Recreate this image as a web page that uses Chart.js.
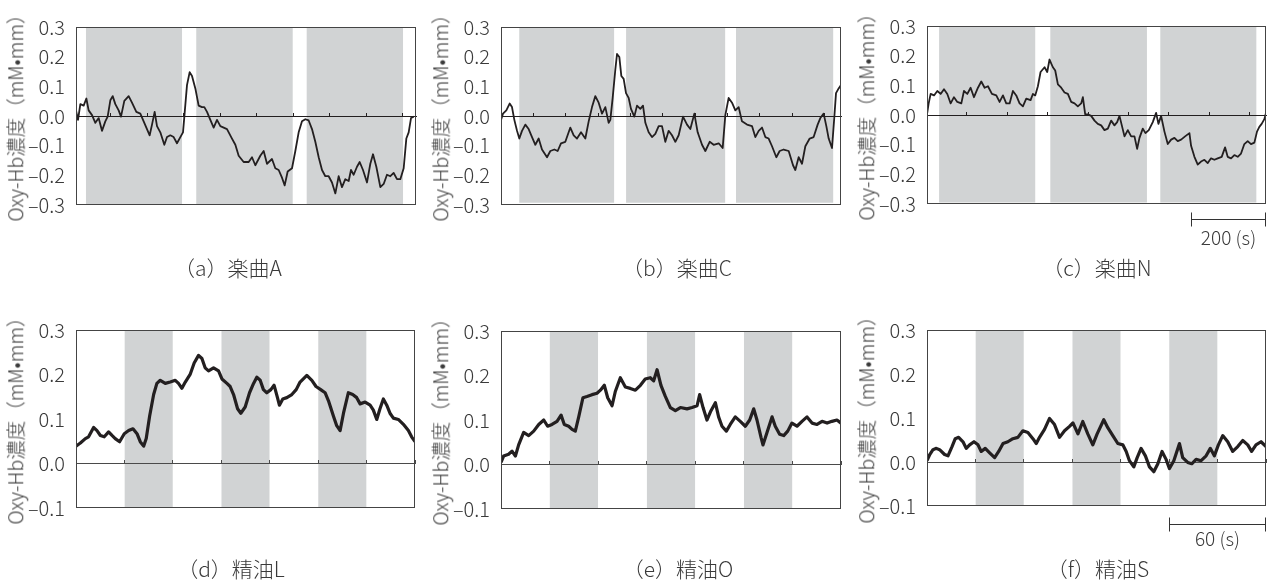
<!DOCTYPE html>
<html><head><meta charset="utf-8">
<script src="https://cdn.jsdelivr.net/npm/chart.js@4.4.0/dist/chart.umd.min.js"></script>
<style>
html,body{margin:0;padding:0;background:#fff;}
body{width:1272px;height:585px;position:relative;overflow:hidden;font-family:'Noto Sans CJK JP','Noto Sans',sans-serif;}
.panel{position:absolute;}
.panel canvas{display:block;}
.ytitle{position:absolute;white-space:nowrap;font-size:19.5px;font-weight:300;color:#3a3a3a;line-height:1;transform:translate(-50%,-50%) rotate(-90deg);}
.cap{position:absolute;white-space:nowrap;font-size:21px;font-weight:300;color:#3a3a3a;line-height:1;transform:translate(-50%,-50%);}
</style></head><body>
<script>
// ---------- data ----------
const musicRange = [0, 900];      // seconds
const oilRange = [0, 210];        // seconds
const musicYTicks = [-0.3, -0.2, -0.1, 0.0, 0.1, 0.2, 0.3];
const oilYTicks = [-0.1, 0.0, 0.1, 0.2, 0.3];
const yTitle = 'Oxy-Hb濃度（mM•mm）';
const captions = ['（a）楽曲A', '（b）楽曲C', '（c）楽曲N', '（d）精油L', '（e）精油O', '（f）精油S'];

const aTicks = [91, 188, 285, 382, 479, 575, 672, 769, 863];
const bTicks = [86.5, 172, 257.5, 343, 428.5, 514, 599.5, 685, 770.5, 855];
const cTicks = [106, 215, 321, 429, 536, 642, 750, 856];
const oilTicks = [30, 60, 90, 120, 150, 180, 210];

const aBands = [[26, 281], [318, 574], [610, 866]];
const bBands = [[48, 300], [331, 594], [622, 880]];
const cBands = [[32, 288], [327, 584], [619, 875]];
const oilBands = [[30, 60], [90, 120], [150, 180]];

const aTime = [0,5.3,11.5,20.3,27.4,33.5,42.4,51.2,60,68.8,77.6,83.8,90.9,97.1,104.1,112.9,119.1,127.9,139.4,148.2,159.7,170.3,179.1,187.9,195,201.2,208.2,214.4,223.2,233.8,240.9,249.7,258.5,267.3,276.2,283.2,286.8,293.8,300.9,307.1,315.9,324.7,333.5,339.7,346.8,355.6,364.4,373.2,382.1,399.7,412.9,421.8,430.6,443.8,457.1,465.9,474.7,487.9,496.8,505.6,518.8,527.6,536.5,545.3,552.4,560.3,571.8,580.6,589.4,598.2,607.1,615.9,624.7,633.5,642.4,651.2,660,668.8,677.6,686.5,695.3,704.1,712.9,721.8,727.9,735,743.8,750.9,759.7,770.3,779.1,786.2,795,805.6,814.4,823.2,832.1,840.9,849.7,858.5,867.4,874.4,880.6,886.8,893.8];
const aOxy = [0.019,-0.013,0.040,0.035,0.059,0.019,0.003,-0.023,-0.007,-0.050,-0.018,-0.002,0.053,0.067,0.040,0.019,-0.002,0.051,0.067,0.045,0.014,0.008,-0.018,-0.044,-0.065,-0.029,0.014,-0.034,-0.055,-0.097,-0.071,-0.065,-0.071,-0.092,-0.071,-0.055,-0.002,0.104,0.148,0.135,0.093,0.035,0.030,0.030,0.014,-0.013,-0.039,-0.013,-0.034,-0.044,-0.076,-0.097,-0.134,-0.155,-0.155,-0.139,-0.166,-0.134,-0.118,-0.161,-0.145,-0.176,-0.182,-0.208,-0.234,-0.187,-0.176,-0.118,-0.055,-0.018,-0.011,-0.015,-0.044,-0.087,-0.139,-0.182,-0.203,-0.203,-0.224,-0.261,-0.203,-0.240,-0.213,-0.219,-0.182,-0.198,-0.171,-0.155,-0.182,-0.224,-0.161,-0.129,-0.171,-0.240,-0.229,-0.198,-0.203,-0.192,-0.213,-0.213,-0.176,-0.076,-0.055,-0.007,-0.002];

const bTime = [0,5.3,14.1,22.9,29.1,35.3,42.4,48.5,55.6,64.4,73.2,82.1,90.9,99.7,108.5,121.8,130.6,141.2,150,158.8,170.3,183.5,192.4,201.2,211.8,223.2,232.1,240.9,249.7,258.5,267.4,276.2,285,289.4,295.6,302.6,307.1,313.2,318.5,324.7,330.9,337.9,344.1,352.9,360,368.8,375.9,382.1,390.9,399.7,408.5,417.4,426.2,435,443.8,452.6,461.5,470.3,481.8,492.4,501.2,511.8,520.6,532.1,540.9,552.4,562.9,576.2,586.8,593.8,602.6,611.5,620.3,629.1,637.9,651.2,664.4,673.2,682.1,690.9,699.7,708.5,717.4,728.8,737.6,748.2,761.5,773,779.1,787.9,796.8,805.6,817.1,827.6,838.2,845.3,854.1,861.2,867.4,876.2,882.4,886.8,893.8,900];
const bOxy = [-0.013,0.008,0.019,0.042,0.030,-0.013,-0.050,-0.076,-0.050,-0.029,-0.044,-0.071,-0.097,-0.076,-0.113,-0.139,-0.118,-0.113,-0.118,-0.092,-0.087,-0.039,-0.065,-0.076,-0.055,-0.076,-0.018,0.030,0.067,0.045,0.008,0.030,-0.023,-0.013,0.061,0.156,0.209,0.199,0.135,0.125,0.077,0.061,0.024,-0.002,0.035,0.024,0.035,-0.023,-0.055,-0.071,-0.060,-0.034,-0.034,-0.087,-0.050,-0.065,-0.087,-0.065,-0.002,-0.029,-0.044,0.008,-0.055,-0.097,-0.118,-0.087,-0.097,-0.092,-0.108,0.003,0.061,0.045,0.019,0.030,-0.018,-0.029,-0.034,-0.071,-0.050,-0.039,-0.071,-0.076,-0.102,-0.139,-0.118,-0.113,-0.118,-0.166,-0.182,-0.139,-0.161,-0.102,-0.076,-0.071,-0.029,-0.007,0.008,-0.034,-0.076,-0.108,-0.002,0.077,0.093,0.104];

const cTime = [0,4.4,9.7,18.6,27.4,36.2,45.1,53.9,62.8,71.6,80.5,91.1,98.1,107,115.8,124.7,135.3,144.1,153,161.8,172.4,183.9,192.7,201.6,210.4,219.3,228.1,236.9,245.8,254.6,263.5,275,281.1,287.3,294.4,301.5,312.1,319.2,325.3,334.2,340.4,347.5,356.3,365.1,374,382.8,391.7,400.5,409.3,413.8,420,427,435.9,444.7,453.5,462.4,471.2,480.1,488.9,497.7,504.8,511,517.2,524.3,533.1,542,550.8,557.9,564.1,572.9,580,588.8,599.4,608.3,614.4,621.5,630.4,639.2,648.1,656.9,665.7,674.6,685.2,696.7,701.1,710,718.8,727.6,736.5,745.3,754.1,763,771.8,782.4,791.3,798.3,807.2,816,824.9,833.7,842.5,851.4,860.2,869.1,876.1,882.3,888.5,895.6,900];
const cOxy = [0.002,0.039,0.071,0.066,0.081,0.071,0.087,0.071,0.039,0.060,0.044,0.039,0.081,0.071,0.092,0.060,0.092,0.113,0.092,0.097,0.071,0.066,0.044,0.066,0.039,0.039,0.081,0.066,0.039,0.029,0.055,0.050,0.071,0.066,0.097,0.145,0.161,0.145,0.187,0.161,0.150,0.103,0.092,0.076,0.071,0.044,0.039,0.029,0.039,0.060,0.002,0.002,-0.003,-0.019,-0.030,-0.035,-0.051,-0.046,-0.019,-0.035,-0.024,-0.003,-0.035,-0.072,-0.051,-0.072,-0.072,-0.114,-0.077,-0.046,-0.061,-0.051,-0.024,0.007,-0.030,-0.003,-0.056,-0.098,-0.083,-0.077,-0.088,-0.083,-0.072,-0.061,-0.104,-0.141,-0.167,-0.157,-0.151,-0.162,-0.146,-0.151,-0.146,-0.141,-0.109,-0.141,-0.146,-0.135,-0.141,-0.130,-0.098,-0.088,-0.098,-0.093,-0.056,-0.040,-0.030,-0.014,0.007];

const dTime = [0,2.7,5.8,7.8,10.9,13,15.1,17.5,20.2,22.3,24.3,27,29.9,32.6,35.3,37.8,39.8,41.9,43.5,45.6,48.1,50.1,52.2,55.3,58.4,61.5,63.5,65.6,67.7,70.8,73.2,75.9,78,80,82.1,85.2,88.3,90.4,93.5,95.5,97.6,100.1,102.1,104.8,107.5,110,112,114.1,116.1,118.2,120.7,122.7,124.8,126,128.1,130.6,133.7,136.4,138.8,143,146.1,148.7,151.6,154.3,156.4,159.5,161.5,163.6,165.7,168.7,171.4,173.9,176,179.1,182.2,184.2,186.3,188.3,190.4,192.5,194.5,196.6,199.7,202.8,205.9,207.9,210];
const dOxy = [0.039,0.046,0.056,0.060,0.081,0.074,0.063,0.060,0.071,0.063,0.056,0.049,0.067,0.074,0.078,0.067,0.049,0.039,0.056,0.106,0.155,0.180,0.187,0.180,0.183,0.187,0.180,0.169,0.183,0.201,0.226,0.243,0.236,0.215,0.208,0.215,0.208,0.190,0.180,0.173,0.155,0.123,0.113,0.127,0.159,0.180,0.194,0.187,0.166,0.159,0.166,0.176,0.148,0.131,0.145,0.148,0.155,0.166,0.183,0.198,0.187,0.173,0.166,0.159,0.141,0.106,0.085,0.074,0.113,0.159,0.155,0.148,0.134,0.138,0.131,0.120,0.099,0.123,0.145,0.131,0.113,0.102,0.099,0.088,0.074,0.060,0.049];

const eTime = [0,1.6,4.7,6.8,8.9,10.9,14,17.1,20.2,23.3,26.4,28.8,31.5,34.6,37.1,39.1,41.8,43.9,45.9,48,50.6,53.1,56.2,59.3,61.4,63.8,65.9,68.6,70.6,73.7,76.8,79.9,83,86.1,89.1,92.2,94.3,96.4,98.8,101.5,104.6,107.7,110.8,114.9,118,121.1,122.7,124.8,127.2,129.7,132.4,134.4,136.5,139.2,141.6,144.7,147.8,150.9,153.6,156.1,158.1,160.6,161.8,164.3,167.4,169.4,172.1,174.6,177.1,179.7,182.8,185.9,189,192.1,195.2,198.3,201.4,204.4,207.5,210];
const eOxy = [0.005,0.019,0.023,0.030,0.019,0.044,0.072,0.065,0.075,0.090,0.100,0.086,0.090,0.097,0.111,0.090,0.086,0.079,0.075,0.107,0.150,0.153,0.157,0.160,0.167,0.178,0.150,0.132,0.164,0.195,0.174,0.171,0.167,0.178,0.192,0.195,0.188,0.213,0.178,0.153,0.128,0.121,0.128,0.125,0.128,0.132,0.157,0.128,0.100,0.121,0.139,0.107,0.086,0.075,0.090,0.107,0.097,0.086,0.100,0.125,0.100,0.061,0.044,0.072,0.107,0.086,0.068,0.065,0.075,0.093,0.086,0.097,0.107,0.093,0.090,0.097,0.093,0.097,0.100,0.093];

const fTime = [0,1.7,3.7,5.8,7.8,10.9,13,15.5,17.5,19.6,22.3,24.3,26.4,29.1,31.6,33.6,36.1,38.8,41.9,44.4,47.1,50.1,53.2,56.3,59.4,62.5,65.6,67.7,69.7,72.8,75.9,79,82.1,85.2,88.3,90.4,93.5,96.5,99.6,102.7,105.4,109.5,112,115.1,118.2,121.3,123.4,125.4,128.1,130.2,132.6,135.3,137.8,140.5,143,145.6,148.1,150.2,152.9,156.4,158.4,161.5,164,166.7,169.8,172.9,175.5,178,180.5,183.2,186.3,189.4,192.5,195.6,198.7,201.1,203.8,206.9,210];
const fOxy = [0.003,0.017,0.028,0.031,0.028,0.017,0.014,0.035,0.053,0.056,0.046,0.031,0.039,0.046,0.039,0.024,0.031,0.021,0.010,0.024,0.042,0.046,0.053,0.056,0.071,0.067,0.053,0.042,0.056,0.074,0.099,0.085,0.056,0.071,0.081,0.089,0.064,0.092,0.064,0.039,0.064,0.096,0.078,0.060,0.042,0.039,0.024,0.003,-0.011,0.010,0.031,0.014,-0.011,-0.022,-0.004,0.024,0.006,-0.015,0.003,0.042,0.010,-0.001,-0.004,0.006,0.003,0.014,0.031,0.014,0.039,0.060,0.046,0.024,0.035,0.049,0.039,0.024,0.039,0.046,0.035];

const musicScaleBar = {seconds: 200, label: '200 (s)'};
const oilScaleBar = {seconds: 60, label: '60 (s)'};

// ---------- panels ----------
const panels = [
  {time: aTime, oxy: aOxy, bands: aBands, xTicks: aTicks, xRange: musicRange, yTicks: musicYTicks, floor: -0.3,   caption: captions[0], bar: null},
  {time: bTime, oxy: bOxy, bands: bBands, xTicks: bTicks, xRange: musicRange, yTicks: musicYTicks, floor: -0.292, caption: captions[1], bar: null},
  {time: cTime, oxy: cOxy, bands: cBands, xTicks: cTicks, xRange: musicRange, yTicks: musicYTicks, floor: -0.295, caption: captions[2], bar: musicScaleBar},
  {time: dTime, oxy: dOxy, bands: oilBands, xTicks: oilTicks, xRange: oilRange, yTicks: oilYTicks, floor: -0.1, caption: captions[3], bar: null},
  {time: eTime, oxy: eOxy, bands: oilBands, xTicks: oilTicks, xRange: oilRange, yTicks: oilYTicks, floor: -0.1, caption: captions[4], bar: null},
  {time: fTime, oxy: fOxy, bands: oilBands, xTicks: oilTicks, xRange: oilRange, yTicks: oilYTicks, floor: -0.1, caption: captions[5], bar: oilScaleBar}
];

// layout (page pixels of each plot area, caption centres)
const layoutBoxes = [
  {L: 76, R: 416, T: 16, B: 205, capX: 228, capY: 267, row: 0, barY: 15, barText: 34},
  {L: 501, R: 841, T: 16, B: 205, capX: 677, capY: 267, row: 0},
  {L: 927, R: 1266, T: 15, B: 204, capX: 1097, capY: 267, row: 0, barY: 15, barText: 34},
  {L: 76, R: 415, T: 319, B: 508, capX: 231, capY: 568, row: 1},
  {L: 501, R: 841, T: 320, B: 509, capX: 678, capY: 568, row: 1},
  {L: 927, R: 1266, T: 319, B: 506, capX: 1098, capY: 568, row: 1, barY: 18, barText: 33}
];

const AXW = 72, PT = 12, PR = 5, PB = 50;
const FONT = "'Noto Sans CJK JP', 'Noto Sans', sans-serif";
const TXT = '#3a3a3a';
const fmt = v => (v < -1e-9 ? '\u2012' : '') + Math.abs(v).toFixed(1);

const framePlugin = {
  id: 'frame',
  afterDatasetsDraw(chart, args, opts) {
    const {ctx, chartArea: a} = chart;
    ctx.save();
    ctx.strokeStyle = opts.color || '#444';
    ctx.lineWidth = 1;
    ctx.strokeRect(Math.round(a.left) + 0.5, Math.round(a.top) + 0.5,
                   Math.round(a.right - a.left) - 1, Math.round(a.bottom - a.top) - 1);
    ctx.restore();
  }
};

const scaleBarPlugin = {
  id: 'scaleBar',
  afterDraw(chart, args, opts) {
    if (!opts || !opts.seconds) return;
    const x = chart.scales.x, a = chart.chartArea, ctx = chart.ctx;
    const x1 = Math.round(x.getPixelForValue(x.max - opts.seconds)) + 0.5;
    const x2 = Math.round(x.getPixelForValue(x.max)) - 0.5;
    const y = Math.round(a.bottom + opts.offset) + 0.5;
    ctx.save();
    ctx.strokeStyle = '#333';
    ctx.lineWidth = 1;
    ctx.beginPath();
    ctx.moveTo(x1, y); ctx.lineTo(x2, y);
    ctx.moveTo(x1, y - 7); ctx.lineTo(x1, y + 7);
    ctx.moveTo(x2, y - 7); ctx.lineTo(x2, y + 7);
    ctx.stroke();
    ctx.fillStyle = TXT;
    ctx.font = '300 19px ' + FONT;
    ctx.textAlign = 'center';
    ctx.textBaseline = 'middle';
    ctx.fillText(opts.label, (x1 + x2) / 2, a.bottom + opts.textOffset);
    ctx.restore();
  }
};

panels.forEach((p, i) => {
  const g = layoutBoxes[i];
  const w = (g.R - g.L) + AXW + PR;
  const h = (g.B - g.T) + PT + PB;
  const div = document.createElement('div');
  div.className = 'panel';
  div.style.left = (g.L - AXW) + 'px';
  div.style.top = (g.T - PT) + 'px';
  div.style.width = w + 'px';
  div.style.height = h + 'px';
  const cv = document.createElement('canvas');
  div.appendChild(cv);
  document.body.appendChild(div);

  const t = document.createElement('div');
  t.className = 'ytitle';
  t.textContent = yTitle;
  t.style.left = (g.L - 61) + 'px';
  t.style.top = ((g.T + g.B) / 2 + 2) + 'px';
  document.body.appendChild(t);

  const c = document.createElement('div');
  c.className = 'cap';
  c.textContent = p.caption;
  c.style.left = g.capX + 'px';
  c.style.top = g.capY + 'px';
  document.body.appendChild(c);

  const yMin = p.yTicks[0], yMax = p.yTicks[p.yTicks.length - 1];
  const zeroColor = g.row === 0 ? '#231f20' : '#4a4a4a';
  const n = Math.min(p.time.length, p.oxy.length);
  const trace = [];
  for (let k = 0; k < n; k++) trace.push({x: p.time[k], y: p.oxy[k]});

  const datasets = [{
    data: trace,
    borderColor: '#231f20',
    borderWidth: g.row === 0 ? 1.8 : 3.2,
    borderJoinStyle: 'round',
    pointRadius: 0,
    fill: false,
    tension: 0
  }];
  p.bands.forEach(([s, e]) => {
    datasets.push({
      data: [{x: s, y: yMax}, {x: e, y: yMax}],
      borderColor: 'rgba(0,0,0,0)',
      borderWidth: 0,
      pointRadius: 0,
      backgroundColor: '#d1d3d4',
      fill: {value: p.floor}
    });
  });

  new Chart(cv, {
    type: 'line',
    data: {datasets},
    plugins: [framePlugin, scaleBarPlugin],
    options: {
      responsive: true,
      maintainAspectRatio: false,
      animation: false,
      devicePixelRatio: 1,
      events: [],
      layout: {padding: {left: 0, top: PT, right: PR, bottom: PB}},
      plugins: {
        legend: {display: false},
        tooltip: {enabled: false},
        filler: {drawTime: 'beforeDraw', propagate: false},
        frame: {color: '#444'},
        scaleBar: p.bar ? {seconds: p.bar.seconds, label: p.bar.label, offset: g.barY, textOffset: g.barText} : {}
      },
      scales: {
        x: {
          type: 'linear',
          min: p.xRange[0],
          max: p.xRange[1],
          position: {y: 0},
          afterBuildTicks: s => { s.ticks = p.xTicks.map(v => ({value: v})); },
          ticks: {display: false},
          grid: {display: true, drawOnChartArea: false, drawTicks: true, tickLength: -4, color: zeroColor, lineWidth: 1},
          border: {display: true, color: zeroColor, width: 1}
        },
        y: {
          type: 'linear',
          position: 'left',
          min: yMin,
          max: yMax,
          afterBuildTicks: s => { s.ticks = p.yTicks.map(v => ({value: v})); },
          afterFit: s => { s.width = AXW; },
          grid: {display: false, drawTicks: false},
          border: {display: false},
          ticks: {padding: 11, color: TXT, font: {family: FONT, size: 20, weight: 300}, callback: v => fmt(v)}
        }
      }
    }
  });
});
</script>
</body></html>
